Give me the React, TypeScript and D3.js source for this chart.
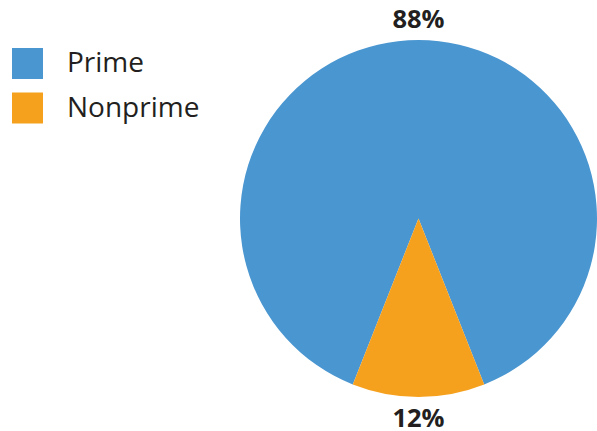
import React from "react";
import * as d3 from "d3";

const categories = ["Prime", "Nonprime"];
const values = [88, 12];
const valueLabels = ["88%", "12%"];
const colors = ["#4A96D1", "#F6A11E"];

export default function App() {
  const width = 597;
  const height = 431;
  const cx = 418.5;
  const cy = 218.5;
  const r = 178.5;

  const nonprimeShare = values[1] / d3.sum(values);
  const half = nonprimeShare * Math.PI;
  const pie = d3
    .pie<number>()
    .sort(null)
    .value((d) => d)
    .startAngle(Math.PI + half)
    .endAngle(Math.PI + half + 2 * Math.PI);
  const arcs = pie(values);
  const arc = d3.arc<d3.PieArcDatum<number>>().innerRadius(0).outerRadius(r);

  const font = "'Open Sans', 'Noto Sans', sans-serif";

  return (
    <svg
      width={width}
      height={height}
      style={{ position: "absolute", left: 0, top: 0 }}
    >
      <rect width={width} height={height} fill="#ffffff" />
      <g transform={`translate(${cx},${cy})`}>
        {arcs.map((a, i) => (
          <path key={i} d={arc(a) || ""} fill={colors[i]} />
        ))}
      </g>
      <text
        x={cx}
        y={28}
        textAnchor="middle"
        fontFamily={font}
        fontWeight={700}
        fontSize={25.5}
        fill="#231f20"
      >
        {valueLabels[0]}
      </text>
      <text
        x={cx}
        y={427}
        textAnchor="middle"
        fontFamily={font}
        fontWeight={700}
        fontSize={25.5}
        fill="#231f20"
      >
        {valueLabels[1]}
      </text>
      {categories.map((c, i) => (
        <g key={c} transform={`translate(12,${48 + i * 44.5})`}>
          <rect width={31} height={31} fill={colors[i]} />
          <text
            x={55}
            y={24}
            fontFamily={font}
            fontSize={28}
            fill="#231f20"
          >
            {c}
          </text>
        </g>
      ))}
    </svg>
  );
}
